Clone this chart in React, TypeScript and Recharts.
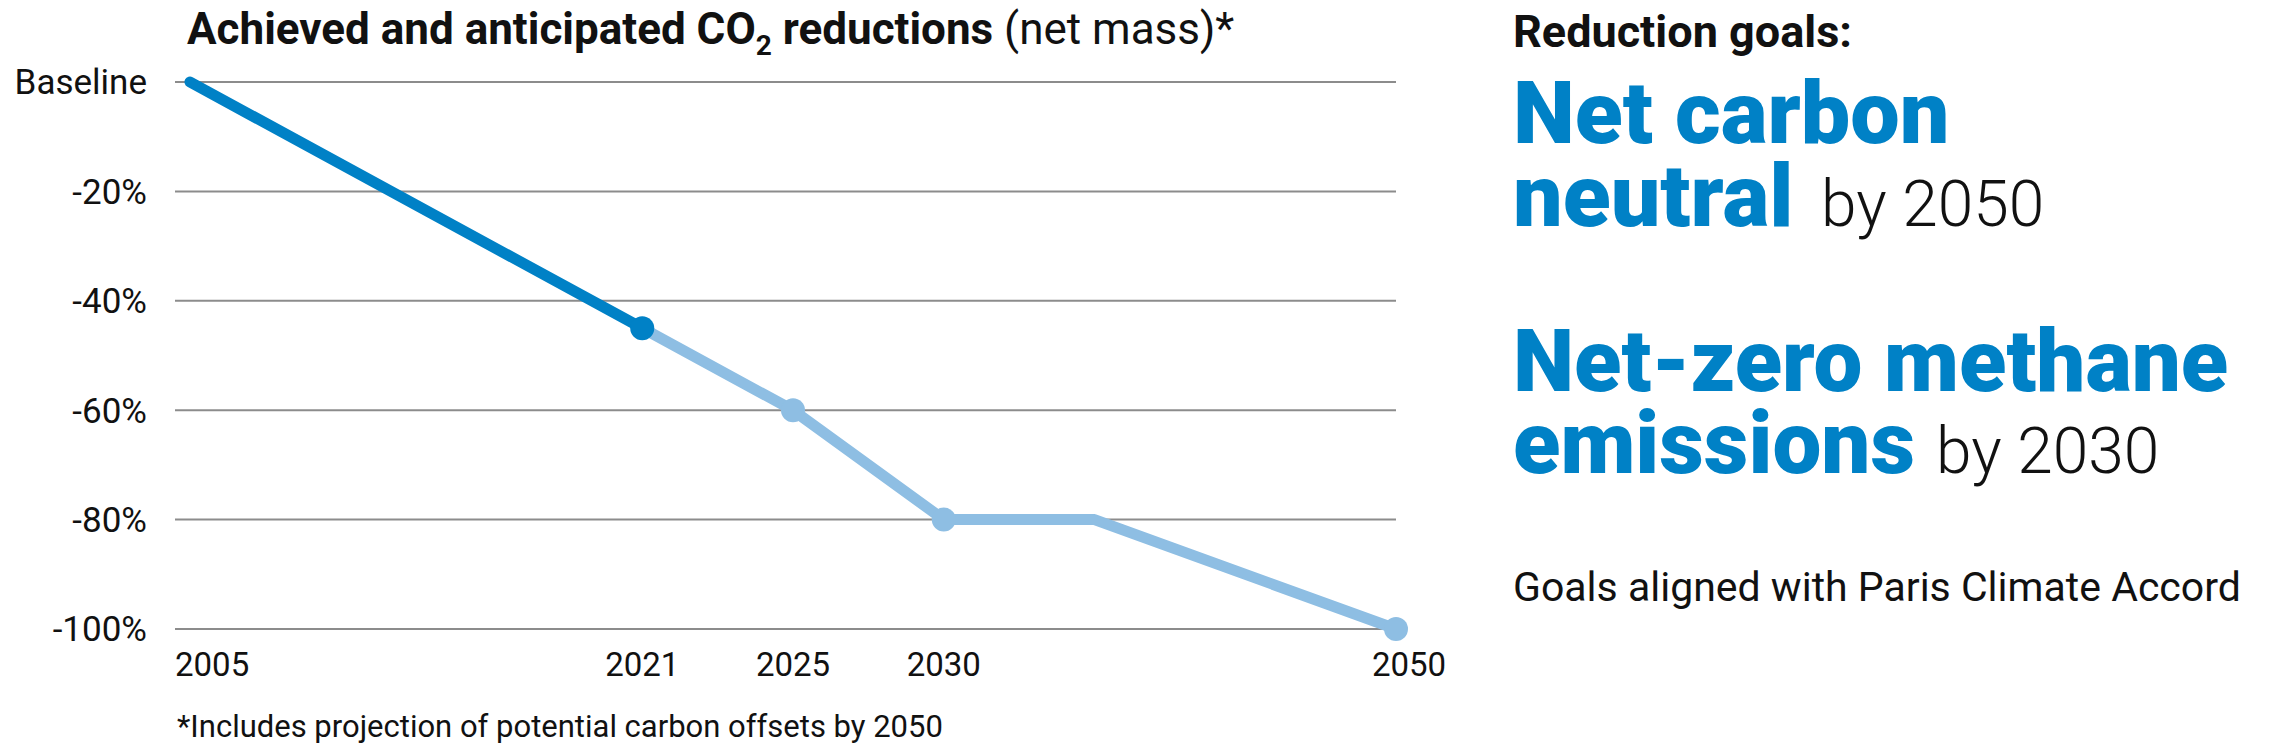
import React from "react";
import { CartesianGrid, Line, LineChart, XAxis, YAxis } from "recharts";

// slots on the x axis (blank slots keep the uneven spacing of the original)
const years = ["2005", "", "", "2021", "2025", "2030", "", "", "2050"];
const achieved = [0, null, null, -45, null, null, null, null, null];
const anticipated = [null, null, null, -45, -60, -80, -80, null, -100];
const yTicks = [0, -20, -40, -60, -80, -100];
const achievedDots = ["2021"];
const anticipatedDots = ["2025", "2030", "2050"];

const DARK = "#0081C6";
const LIGHT = "#8EBEE3";
const FONT = "Roboto, 'Liberation Sans', sans-serif";

const data = years.map((year, i) => ({
  slot: i,
  year,
  achieved: achieved[i],
  anticipated: anticipated[i],
}));

function makeDot(list: string[], color: string) {
  return (props: any) => {
    const { cx, cy, index } = props;
    if (cy == null || !list.includes(years[index])) return <g key={`n-${index}`} />;
    return <circle key={`d-${index}`} cx={cx} cy={cy} r={12} fill={color} />;
  };
}

function YearTick({ x, y, payload, index }: any) {
  const label = years[payload.value];
  if (!label) return <g />;
  const first = index === 0;
  const last = index === years.length - 1;
  return (
    <text
      x={first ? x - 15 : last ? x + 13 : x}
      y={y + 47}
      textAnchor={first ? "start" : "middle"}
      fontFamily={FONT}
      fontSize={33}
      fill="#111"
    >
      {label}
    </text>
  );
}

export default function App() {
  return (
    <div style={{ position: "absolute", left: 0, top: 0, width: 2288, height: 750, background: "#fff" }}>
      <LineChart
        width={1480}
        height={750}
        data={data}
        margin={{ top: 82, right: 84, bottom: 61, left: 0 }}
        style={{ position: "absolute", left: 0, top: 0 }}
      >
        <CartesianGrid vertical={false} stroke="#8c8c8c" strokeWidth={2} />
        <XAxis
          dataKey="slot"
          type="category"
          interval={0}
          height={60}
          padding={{ left: 15, right: 0 }}
          axisLine={false}
          tickLine={false}
          tickSize={0}
          tickMargin={0}
          tick={<YearTick />}
        />
        <YAxis
          width={175}
          domain={[-100, 0]}
          ticks={yTicks}
          axisLine={false}
          tickLine={false}
          tickSize={0}
          tickMargin={28}
          tickFormatter={(v: number) => (v === 0 ? "Baseline" : `${v}%`)}
          tick={{ fill: "#111", fontSize: 35, fontFamily: FONT }}
        />
        <Line
          dataKey="anticipated"
          stroke={LIGHT}
          strokeWidth={11}
          strokeLinejoin="round"
          connectNulls
          dot={makeDot(anticipatedDots, LIGHT)}
          activeDot={false}
          isAnimationActive={false}
        />
        <Line
          dataKey="achieved"
          stroke={DARK}
          strokeWidth={11}
          strokeLinecap="round"
          connectNulls
          dot={makeDot(achievedDots, DARK)}
          activeDot={false}
          isAnimationActive={false}
        />
      </LineChart>

      <svg
        width={2288}
        height={750}
        style={{ position: "absolute", left: 0, top: 0, pointerEvents: "none" }}
        fontFamily={FONT}
      >
        <text x={187} y={44} fontSize={44} fill="#111">
          <tspan fontWeight={700}>Achieved and anticipated CO</tspan>
          <tspan fontWeight={700} fontSize={28} dy={11}>2</tspan>
          <tspan fontWeight={700} dy={-11}> reductions</tspan>
          <tspan fontWeight={400}> (net mass)*</tspan>
        </text>
        <text x={177} y={737} fontSize={31} fill="#111">
          *Includes projection of potential carbon offsets by 2050
        </text>

        <text x={1513} y={47} fontSize={45} fontWeight={700} fill="#111">
          Reduction goals:
        </text>
        <text x={1513} y={143} fontSize={88} fontWeight={900} fill={DARK}>
          Net carbon
        </text>
        <text x={1513} y={226} fontSize={88} fontWeight={900} fill={DARK}>
          neutral
        </text>
        <text x={1821} y={226} fontSize={64} fontWeight={300} fill="#111">
          by 2050
        </text>
        <text x={1513} y={391} fontSize={87} fontWeight={900} fill={DARK}>
          Net-zero methane
        </text>
        <text x={1513} y={473} fontSize={87} fontWeight={900} fill={DARK}>
          emissions
        </text>
        <text x={1936} y={473} fontSize={64} fontWeight={300} fill="#111">
          by 2030
        </text>
        <text x={1513} y={601} fontSize={41} fill="#111">
          Goals aligned with Paris Climate Accord
        </text>
      </svg>
    </div>
  );
}
